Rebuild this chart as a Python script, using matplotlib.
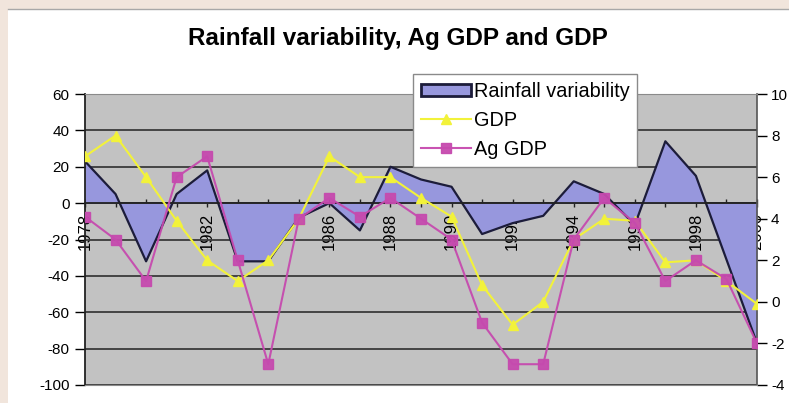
import numpy as np
import matplotlib.pyplot as plt
from matplotlib.patches import Rectangle
from matplotlib.lines import Line2D

plt.rcParams['font.family'] = ['Liberation Sans', 'DejaVu Sans']
plt.rcParams['axes.unicode_minus'] = False

# --- Data ---
years = list(range(1978, 2001))
rainfall = [23, 5, -32, 5, 18, -32, -32, -8, 0, -15, 20, 13, 9,
            -17, -11, -7, 12, 5, -12, 34, 15, -31, -77]          # left axis
gdp = [7, 8, 6, 3.9, 2, 1, 2, 4, 7, 6, 6, 5, 4.1,
       0.8, -1.1, 0, 3, 4, 3.9, 1.9, 2, 1, -0.1]                # right axis
ag_gdp = [4.1, 3, 1, 6, 7, 2, -3, 4, 5, 4.1, 5, 4, 3,
          -1, -3, -3, 3, 5, 3.8, 1, 2, 1.1, -2]                 # right axis
left_ticks = [-100, -80, -60, -40, -20, 0, 20, 40, 60]
right_ticks = [-4, -2, 0, 2, 4, 6, 8, 10]

# --- Colours ---
beige = '#F1E5DC'
plot_grey = '#C2C2C2'
area_col = '#9797DD'
gdp_col = '#F2F23A'
ag_col = '#C64AAE'

W, H = 789, 403
fig = plt.figure(figsize=(W / 100, H / 100), dpi=100, facecolor=beige)

# white chart area with a thin grey top edge
fig.patches.append(Rectangle((8 / W, 0), 1, 1 - 9 / H, transform=fig.transFigure,
                             facecolor='white', lw=0, zorder=-5))
fig.lines.append(Line2D([8 / W, 1], [1 - 9 / H] * 2, transform=fig.transFigure,
                        color='#A8A8A8', lw=1, zorder=-4))

x0, x1, ytop, ybot = 85, 757, 94, 385
ax = fig.add_axes([x0 / W, 1 - ybot / H, (x1 - x0) / W, (ybot - ytop) / H])
ax.set_facecolor(plot_grey)

# rainfall variability as area
ax.fill_between(years, rainfall, 0, color=area_col, lw=0, zorder=1)
ax.plot(years, rainfall, color='#1C1C3A', lw=1.6, zorder=2)

ax.set_xlim(1978, 2000)
ax.set_ylim(-100, 60)
ax.set_yticks(left_ticks)
ax.grid(axis='y', color='#3A3A3A', lw=1.3)
ax.set_axisbelow(True)

# category axis crosses at zero
ax.spines['bottom'].set_position(('data', 0))
ax.spines['bottom'].set_color('#222222')
ax.spines['bottom'].set_linewidth(1.3)
ax.spines['bottom'].set_zorder(3)
ax.spines['top'].set_visible(False)
ax.spines['right'].set_visible(False)
ax.spines['left'].set_color('#222222')
ax.spines['left'].set_linewidth(1.3)

ax.set_xticks(years)
ax.set_xticklabels([str(y) if y % 2 == 0 else '' for y in years],
                   rotation=90, fontsize=12)
ax.tick_params(axis='x', direction='inout', length=6, width=1, pad=4, colors='#222222',
               labelcolor='black')
ax.tick_params(axis='y', direction='out', length=7, width=1, labelsize=11, pad=4)

# secondary axis for GDP series
ax2 = ax.twinx()
l_gdp, = ax2.plot(years, gdp, color=gdp_col, lw=1.5, marker='^', ms=7,
                  mfc=gdp_col, mec=gdp_col, zorder=3)
l_ag, = ax2.plot(years, ag_gdp, color=ag_col, lw=1.5, marker='s', ms=6.5,
                 mfc=ag_col, mec=ag_col, zorder=4, alpha=0.95)
ax2.set_ylim(-4, 10)
ax2.set_yticks(right_ticks)
ax2.tick_params(axis='y', direction='out', length=7, width=1, labelsize=11, pad=3)
ax2.spines['left'].set_visible(False)
ax2.spines['top'].set_color('#8A8A8A')
ax2.spines['bottom'].set_color('#8A8A8A')
ax2.spines['right'].set_color('#555555')
ax2.spines['right'].set_linewidth(1.2)

# legend
area_handle = Rectangle((0, 0), 1, 1, facecolor=area_col, edgecolor='#1C1C3A', lw=2)
leg = ax2.legend([area_handle, l_gdp, l_ag], ['Rainfall variability', 'GDP', 'Ag GDP'],
                 loc='upper left', bbox_to_anchor=(413 / W, 1 - 74 / H),
                 bbox_transform=fig.transFigure, borderaxespad=0, fontsize=14.3,
                 frameon=True, fancybox=False, framealpha=1, edgecolor='#8A8A8A',
                 handlelength=2.5, handleheight=0.55, handletextpad=0.15,
                 labelspacing=0.5, borderpad=0.4)
leg.get_frame().set_linewidth(1)
leg.set_zorder(10)

fig.text(398 / W, 1 - 38 / H, 'Rainfall variability, Ag GDP and GDP',
         ha='center', va='center', fontsize=17.5, fontweight='bold')

fig.savefig('out.png', dpi=100, facecolor=beige)
